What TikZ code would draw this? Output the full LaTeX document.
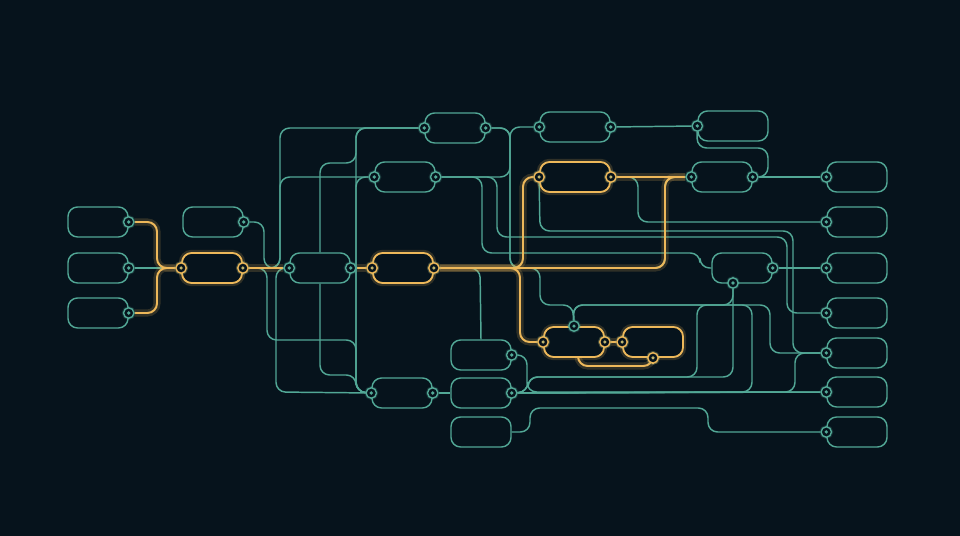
\documentclass[tikz,border=0pt]{standalone}
\usepackage{tikz}
\usetikzlibrary{backgrounds}

\definecolor{bg}{HTML}{06131C}
\definecolor{wirecol}{HTML}{52A896}
\definecolor{amber}{HTML}{EDB85A}

\begin{document}
\begin{tikzpicture}[
    x = 0.025cm, y = -0.025cm,
    box/.style = {draw=wirecol, fill=bg, rounded corners=2.4mm, line width=1pt,
                  minimum width=1.5cm, minimum height=0.75cm, inner sep=0},
    wide/.style = {minimum width=1.75cm},
    hot box/.style = {box, draw=amber, line width=1.3pt,
                      preaction={draw=amber, opacity=0.18, line width=4.5pt}},
    port/.style = {circle, draw=wirecol, fill=bg, line width=1pt,
                   minimum size=2.6mm, inner sep=0,
                   preaction={draw=wirecol, opacity=0.2, line width=2.5pt},
                   path picture={\fill[wirecol] (path picture bounding box.center) circle (0.45mm);}},
    hot port/.style = {port, draw=amber,
                   preaction={draw=amber, opacity=0.2, line width=2.5pt},
                   path picture={\fill[amber!70!wirecol] (path picture bounding box.center) circle (0.45mm);}},
    link/.style = {draw=wirecol, line width=1.05pt, rounded corners=2.4mm},
    hot link/.style = {link, draw=amber, line width=1.4pt,
                       preaction={draw=amber, opacity=0.18, line width=5pt}}
  ]
  \useasboundingbox (0,0) rectangle (960,536);

  % boxes
  \node[box] (L1) at (98,222) {};
  \node[box] (L2) at (98,268) {};
  \node[box] (L3) at (98,313) {};
  \node[box] (A) at (213,222) {};
  \node[hot box] (B) at (212,268) {};
  \node[box] (C) at (320,268) {};
  \node[box] (D) at (455,128) {};
  \node[box] (E) at (405,177) {};
  \node[hot box] (F) at (403,268) {};
  \node[box, wide] (G) at (575,127) {};
  \node[hot box, wide] (H) at (575,177) {};
  \node[box, wide] (I) at (733,126) {};
  \node[box] (J) at (722,177) {};
  \node[box] (K) at (742,268) {};
  \node[hot box] (M) at (574,342) {};
  \node[hot box] (N) at (653,342) {};
  \node[box] (P) at (481,355) {};
  \node[box] (Q) at (402,393) {};
  \node[box] (S) at (481,393) {};
  \node[box] (T) at (481,432) {};
  \foreach \n/\y in {1/177, 2/222, 3/268, 4/313, 5/353, 6/392, 7/432}
    \node[box] (R\n) at (857,\y) {};

  % ports
  \node[port] (L1p) at (L1.east) {};
  \node[port] (L2p) at (L2.east) {};
  \node[port] (L3p) at (L3.east) {};
  \node[port] (Ap) at (A.east) {};
  \node[hot port] (Bl) at (B.west) {};
  \node[hot port] (Br) at (B.east) {};
  \node[port] (Cl) at (C.west) {};
  \node[port] (Cr) at (C.east) {};
  \node[port] (Dl) at (D.west) {};
  \node[port] (Dr) at (D.east) {};
  \node[port] (El) at (E.west) {};
  \node[port] (Er) at (E.east) {};
  \node[hot port] (Fl) at (F.west) {};
  \node[hot port] (Fr) at (F.east) {};
  \node[port] (Gl) at (G.west) {};
  \node[port] (Gr) at (G.east) {};
  \node[hot port] (Hl) at (H.west) {};
  \node[hot port] (Hr) at (H.east) {};
  \node[port] (Ip) at (I.west) {};
  \node[port] (Jl) at (J.west) {};
  \node[port] (Jr) at (J.east) {};
  \node[port] (Kr) at (K.east) {};
  \node[port] (Kb) at (733,283) {};
  \node[hot port] (Ml) at (M.west) {};
  \node[hot port] (Mr) at (M.east) {};
  \node[port] (Mt) at (M.north) {};
  \node[hot port] (Nl) at (N.west) {};
  \node[hot port] (Nb) at (N.south) {};
  \node[port] (Pr) at (P.east) {};
  \node[port] (Ql) at (Q.west) {};
  \node[port] (Qr) at (Q.east) {};
  \node[port] (Sr) at (S.east) {};
  \foreach \n in {1,...,7}
    \node[port] (R\n p) at (R\n.west) {};
  \coordinate (Mb) at (578,357);

  \begin{scope}[on background layer]
    \fill[bg] (0,0) rectangle (960,536);

    % left fan-in
    \path[link] (L2p) -- (Bl);
    \path[link] (Ap) -- (264,222) -- (264,268) -- (Cl);
    \path[link] (Dl) -- (280,128) -- (280,268) -- (Br);
    \path[link] (El) -- (280,177) -- (280,268) -- (Br);
    \path[link] (Br) -- (267,268) -- (267,340) -- (356,340) -- (356,392) -- (Ql);
    \path[link] (Cl) -- (276,268) -- (276,392) -- (Ql);
    \path[link] (Dl) -- (356,128) -- (356,392) -- (Ql);
    \path[link] (El) -- (356,177) -- (356,392) -- (Ql);
    \path[link] (C.north) -- (320,163) -- (356,163) -- (356,128) -- (Dl);
    \path[link] (C.south) -- (320,375) -- (356,375) -- (356,392) -- (Ql);

    % upper middle
    \path[link] (Dr) -- (510,128) -- (510,268) -- (665,268) -- (665,177) -- (Jl);
    \path[link] (Gl) -- (510,127) -- (510,268) -- (665,268) -- (665,177) -- (Jl);
    \path[link] (Er) -- (510,177) -- (510,128) -- (Dr);
    \path[link] (Er) -- (482,177) -- (482,253) -- (700,253) -- (700,268) -- (K.west);
    \path[link] (Er) -- (497,177) -- (497,237) -- (787,237) -- (787,313) -- (R4p);
    \path[link] (Hl) -- (540,231) -- (793,231) -- (793,353) -- (R5p);
    \path[link] (Hr) -- (638,177) -- (638,222) -- (R2p);
    \path[link] (Gr) -- (Ip);
    \path[link] (Ip) -- (697,148) -- (768,148) -- (768,177) -- (Jr);
    \path[link] (Jr) -- (R1p);
    \path[link] (Kr) -- (R3p);

    % lower middle
    \path[link] (Fr) -- (480,268) -- (P.north);
    \path[link] (Fr) -- (540,268) -- (540,305) -- (573,305) -- (Mt);
    \path[link] (Mt) -- (573,305) -- (752,305) -- (752,392) -- (Sr);
    \path[link] (Mt) -- (573,305) -- (770,305) -- (770,353) -- (R5p);
    \path[link] (Kb) -- (733,377) -- (528,377) -- (528,392) -- (Sr);
    \path[link] (Sr) -- (528,392) -- (528,377) -- (697,377) -- (697,305) -- (733,305) -- (Kb);
    \path[link] (Pr) -- (527,355) -- (527,392) -- (R6p);
    \path[link] (Qr) -- (S.west);
    \path[link] (Sr) -- (R6p);
    \path[link] (Sr) -- (795,392) -- (795,353) -- (R5p);
    \path[link] (T.east) -- (530,432) -- (530,408) -- (708,408) -- (708,432) -- (R7p);

    % hot path
    \path[hot link] (L1p) -- (157,222) -- (157,268) -- (Bl);
    \path[hot link] (L3p) -- (157,313) -- (157,268) -- (Bl);
    \path[hot link] (Br) -- (Cl);
    \path[hot link] (Cr) -- (Fl);
    \path[hot link] (Fr) -- (523,268) -- (523,177) -- (Hl);
    \path[hot link] (Fr) -- (665,268) -- (665,177) -- (Jl);
    \path[hot link] (Fr) -- (520,268) -- (520,342) -- (Ml);
    \path[hot link] (Hr) -- (Jl);
    \path[hot link] (Mr) -- (Nl);
    \path[hot link] (Nb) -- (653,366) -- (578,366) -- (Mb);
  \end{scope}
\end{tikzpicture}
\end{document}
